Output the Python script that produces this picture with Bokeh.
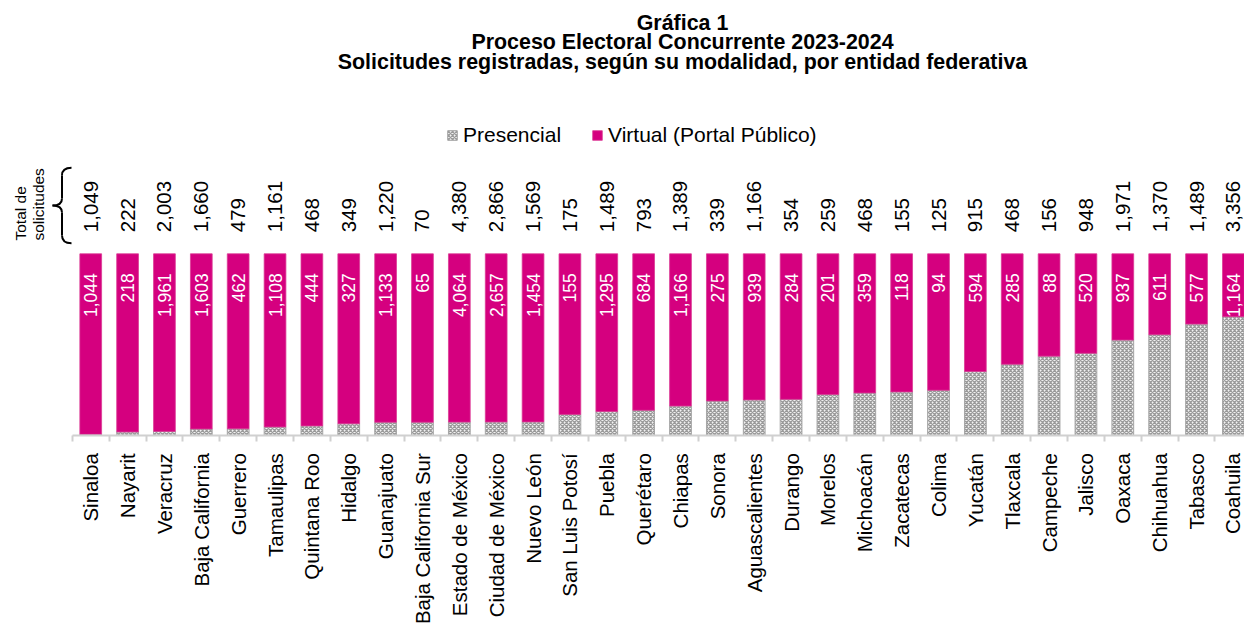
import math
from bokeh.plotting import figure
from bokeh.models import (ColumnDataSource, Range1d, FixedTicker, Legend, LegendItem)
from bokeh.core.properties import value
from bokeh.embed import file_html
from bokeh.resources import INLINE

# ---------------- data ----------------
states = ["Sinaloa", "Nayarit", "Veracruz", "Baja California", "Guerrero", "Tamaulipas",
          "Quintana Roo", "Hidalgo", "Guanajuato", "Baja California Sur", "Estado de México",
          "Ciudad de México", "Nuevo León", "San Luis Potosí", "Puebla", "Querétaro", "Chiapas",
          "Sonora", "Aguascalientes", "Durango", "Morelos", "Michoacán", "Zacatecas", "Colima",
          "Yucatán", "Tlaxcala", "Campeche", "Jalisco", "Oaxaca", "Chihuahua", "Tabasco", "Coahuila"]
totals = [1049, 222, 2003, 1660, 479, 1161, 468, 349, 1220, 70, 4380, 2866, 1569, 175, 1489, 793,
          1389, 339, 1166, 354, 259, 468, 155, 125, 915, 468, 156, 948, 1971, 1370, 1489, 3356]
virtual = [1044, 218, 1961, 1603, 462, 1108, 444, 327, 1133, 65, 4064, 2657, 1454, 155, 1295, 684,
           1166, 275, 939, 284, 201, 359, 118, 94, 594, 285, 88, 520, 937, 611, 577, 1164]
series_names = ["Presencial", "Virtual (Portal Público)"]
title_lines = ["Gráfica 1",
               "Proceso Electoral Concurrente 2023-2024",
               "Solicitudes registradas, según su modalidad, por entidad federativa"]
total_label = ["Total de", "solicitudes"]

presencial = [t - v for t, v in zip(totals, virtual)]
xs = list(range(len(states)))
pres_pct = [p_ / t * 100 for p_, t in zip(presencial, totals)]

src = ColumnDataSource(dict(
    x=xs,
    pres=pres_pct,
    top=[100] * len(xs),
    total_txt=[f"{t:,}" for t in totals],
    virt_txt=[f"{v:,}" for v in virtual],
))

FONT = value("Liberation Sans")
MAGENTA = "#D5007F"

# pixel -> data helpers (the canvas starts at the page's top-left corner)
SX = 36.86   # px per category
SY = 1.814   # px per percent
X0PX = 71.8  # page x of first category boundary
Y0PX = 434.7 # page y of the baseline (0 %)
W, H = 1244, 623


def dx(px):
    return -0.5 + (px - X0PX) / SX


def dy(py):
    return (Y0PX - py) / SY


p = figure(width=W, height=H, output_backend="svg", toolbar_location=None,
           x_range=Range1d(dx(0), dx(W)), y_range=Range1d(dy(H), dy(0)),
           y_axis_location=None, title=None, min_border=0)
p.grid.visible = False
p.outline_line_color = None
p.background_fill_color = "white"

# ---------------- bars ----------------
r_pres = p.vbar(x="x", bottom=0, top="pres", width=0.59, source=src,
                fill_color="#F2F2F2", hatch_pattern="diagonal_cross", hatch_scale=4,
                hatch_weight=1.3, hatch_color="#9A9A9A",
                line_color="#A6A6A6", line_width=1)
r_virt = p.vbar(x="x", bottom="pres", top="top", width=0.59, source=src,
                fill_color=MAGENTA, line_color="#DB3A94", line_width=0.8)

# labels inside virtual bars
p.text(x="x", y=dy(272.7), text="virt_txt", source=src, angle=math.pi / 2,
       text_align="right", text_baseline="middle", text_color="white",
       text_font=FONT, text_font_size="17.5px")

# totals above bars
p.text(x="x", y=dy(231.7), text="total_txt", source=src, angle=math.pi / 2,
       text_align="left", text_baseline="middle", text_color="black",
       text_font=FONT, text_font_size="20.5px")

# "Total de solicitudes" with bracket
p.text(x=[dx(19.6), dx(38.3)], y=[dy(240), dy(240)], text=total_label, angle=math.pi / 2,
       text_align="left", text_baseline="middle", text_color="black",
       text_font=FONT, text_font_size="15.5px")

bx_arm, bx_v, bx_tip = dx(71), dx(61.5), dx(52)
p.quadratic(x0=[bx_arm, bx_v, bx_tip, bx_v], y0=[dy(167.3), dy(198), dy(205), dy(235)],
            x1=[bx_v, bx_tip, bx_v, bx_arm], y1=[dy(175), dy(205), dy(212), dy(242.7)],
            cx=[bx_v, bx_v, bx_v, bx_v], cy=[dy(167.3), dy(205), dy(205), dy(242.7)],
            line_color="black", line_width=2)
p.segment(x0=[bx_v, bx_v], y0=[dy(175), dy(212)], x1=[bx_v, bx_v], y1=[dy(198), dy(235)],
          line_color="black", line_width=2)

# title
p.text(x=[dx(682)] * 3, y=[dy(22.2), dy(41.9), dy(61.5)], text=title_lines,
       text_align="center", text_baseline="middle", text_color="black",
       text_font=FONT, text_font_size="21.4px", text_font_style="bold")

# ---------------- axis (fixed at 0 %, labels below) ----------------
ax = p.xaxis[0]
ax.fixed_location = 0
ax.ticker = FixedTicker(ticks=xs, minor_ticks=[i - 0.5 for i in range(len(xs) + 1)])
ax.bounds = (-0.5, len(xs) - 0.5)
ax.major_label_overrides = {i: s for i, s in zip(xs, states)}
ax.major_label_orientation = math.pi / 2
ax.major_label_text_font = "Liberation Sans"
ax.major_label_text_font_size = "20.5px"
ax.major_label_text_color = "black"
ax.major_label_standoff = 12
ax.major_tick_line_color = None
ax.major_tick_in = 0
ax.major_tick_out = 0
ax.minor_tick_in = 0
ax.minor_tick_out = 6
ax.minor_tick_line_color = "#D0D0D0"
ax.minor_tick_line_width = 2
ax.axis_line_color = "#D0D0D0"
ax.axis_line_width = 2

# ---------------- legend ----------------
legend = Legend(items=[LegendItem(label=series_names[0], renderers=[r_pres]),
                       LegendItem(label=series_names[1], renderers=[r_virt])],
                location=(446, H - 147), orientation="horizontal",
                label_text_font="Liberation Sans", label_text_font_size="21px",
                label_text_color="black", glyph_width=12, glyph_height=12,
                label_standoff=5, spacing=30, padding=0, margin=0, label_height=24,
                border_line_color=None, background_fill_alpha=0)
p.add_layout(legend)

open("out.html", "w").write(file_html(p, INLINE))
